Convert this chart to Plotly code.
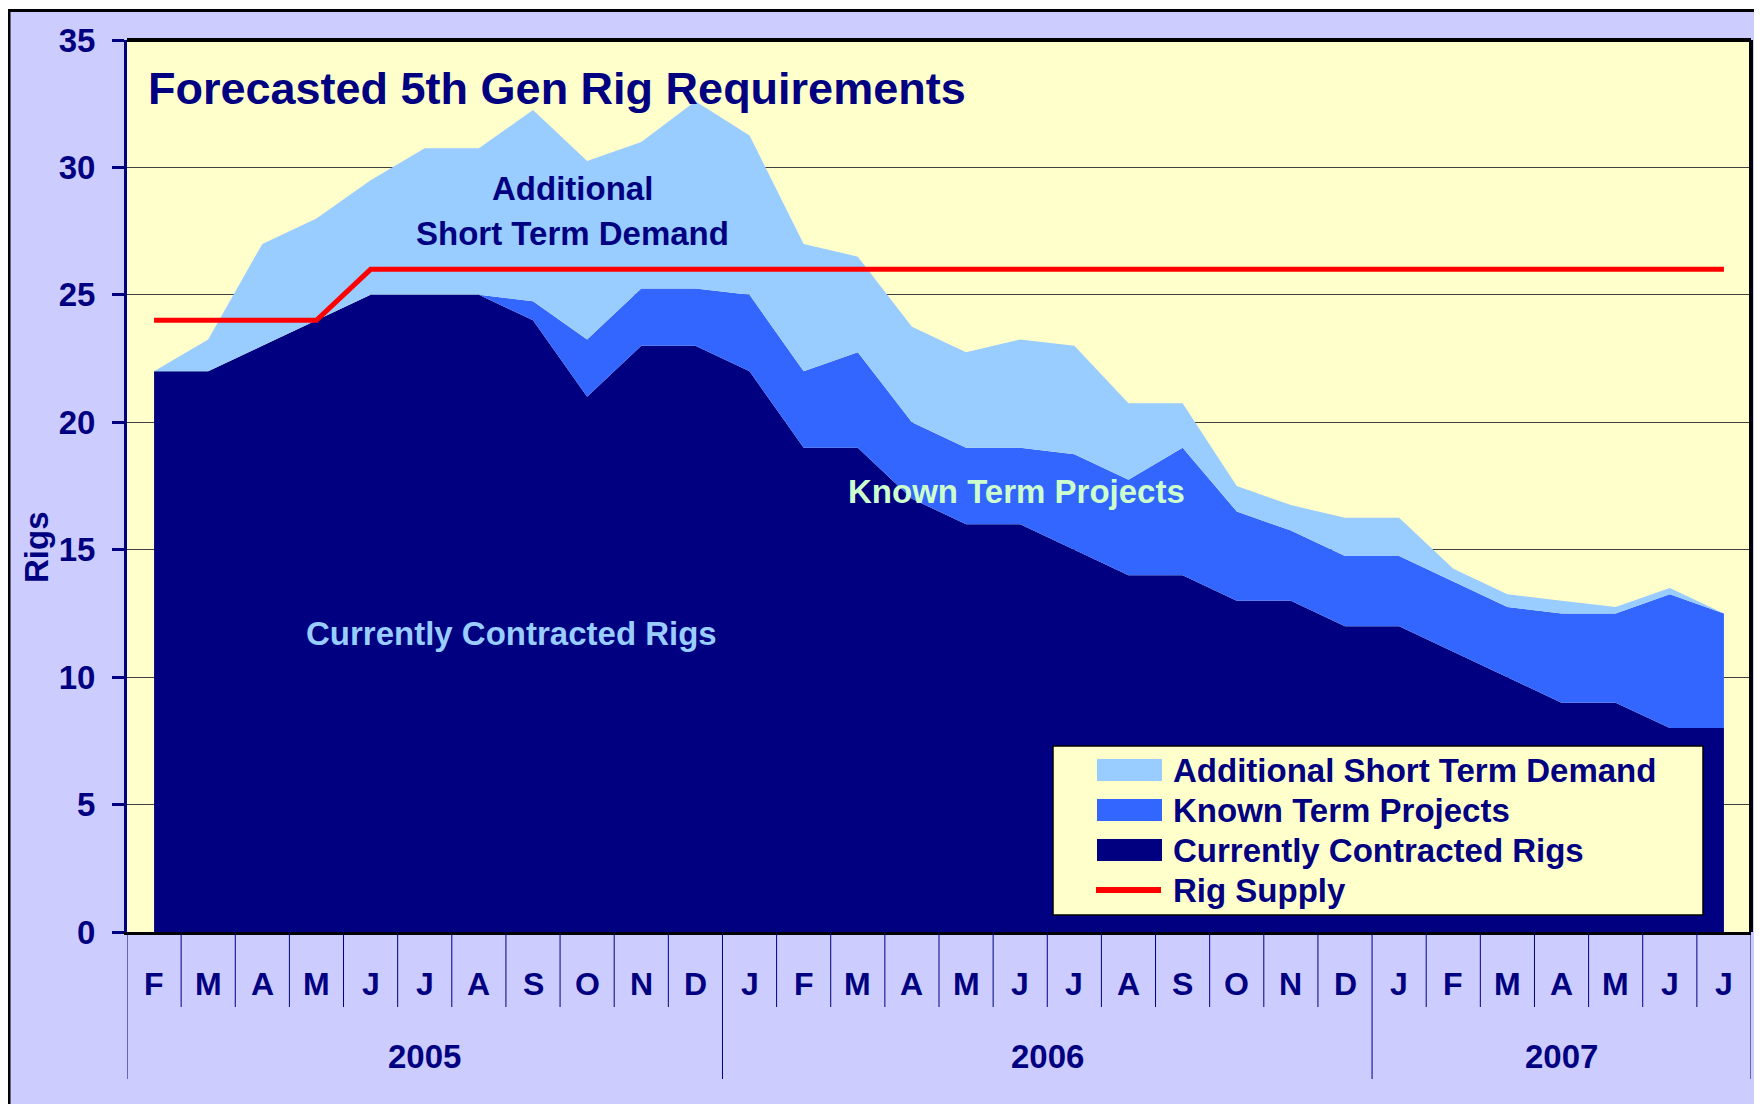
"""Forecasted 5th Gen rig requirements (stacked area + supply line)."""

import plotly.graph_objects as go

NAVY = "#000080"
FONT = "Liberation Sans, Arial, sans-serif"

# one entry per month, Feb 2005 .. Jul 2007
months = ["F", "M", "A", "M", "J", "J", "A", "S", "O", "N", "D",
          "J", "F", "M", "A", "M", "J", "J", "A", "S", "O", "N", "D",
          "J", "F", "M", "A", "M", "J", "J"]
years = [2005, 2005, 2005, 2005, 2005, 2005, 2005, 2005, 2005, 2005, 2005,
         2006, 2006, 2006, 2006, 2006, 2006, 2006, 2006, 2006, 2006, 2006, 2006,
         2007, 2007, 2007, 2007, 2007, 2007, 2007]

contracted = [22, 22, 23, 24, 25, 25, 25, 24, 21, 23, 23,
              22, 19, 19, 17, 16, 16, 15, 14, 14, 13, 13, 12,
              12, 11, 10, 9, 9, 8, 8]
known_term = [0, 0, 0, 0, 0, 0, 0, 0.75, 2.25, 2.25, 2.25,
              3, 3, 3.75, 3, 3, 3, 3.75, 3.75, 5, 3.5, 2.75, 2.75,
              2.75, 2.75, 2.75, 3.5, 3.5, 5.25, 4.5]
short_term = [0, 1.25, 4, 4, 4.5, 5.75, 5.75, 7.5, 7, 5.75, 7.35,
              6.25, 5, 3.75, 3.75, 3.75, 4.25, 4.25, 3, 1.75, 1, 1, 1.5,
              1.5, 0.5, 0.5, 0.5, 0.25, 0.25, 0]
rig_supply = [24, 24, 24, 24, 26, 26, 26, 26, 26, 26, 26,
              26, 26, 26, 26, 26, 26, 26, 26, 26, 26, 26, 26,
              26, 26, 26, 26, 26, 26, 26]

series_names = ["Currently Contracted Rigs", "Known Term Projects",
                "Additional Short Term Demand"]
series_colors = [NAVY, "#3366FF", "#99CCFF"]
legend_order = ["Additional Short Term Demand", "Known Term Projects",
                "Currently Contracted Rigs", "Rig Supply"]

x = list(range(len(months)))

fig = go.Figure()
for name, vals, col in zip(series_names, [contracted, known_term, short_term], series_colors):
    fig.add_trace(go.Scatter(
        x=x, y=vals, name=name, stackgroup="rigs", mode="lines",
        line=dict(width=0, color=col), fillcolor=col, showlegend=False,
    ))
fig.add_trace(go.Scatter(
    x=x, y=rig_supply, name="Rig Supply", mode="lines",
    line=dict(color="#FF0000", width=5), showlegend=False,
))


# paper coords from screen pixels (plot area is 127..1751 x 40..932 on screen)
def px_x(p):
    return (p - 127) / 1624


def px_y(p):
    return (932 - p) / 892


shapes = []
# month / year separators below the axis
year_edges = [-0.5] + [i - 0.5 for i in range(1, len(years)) if years[i] != years[i - 1]] + [len(years) - 0.5]
for k in range(len(months) + 1):
    xe = k - 0.5
    shapes.append(dict(type="line", xref="x", yref="paper", x0=xe, x1=xe,
                       y0=0, y1=px_y(1079) if xe in year_edges else px_y(1007),
                       line=dict(color=NAVY, width=1)))

# plot area border (top / right)
shapes += [
    dict(type="line", xref="paper", yref="paper", x0=0, x1=1, y0=1, y1=1,
         line=dict(color="black", width=4)),
    dict(type="line", xref="paper", yref="paper", x0=1, x1=1, y0=0, y1=1,
         line=dict(color="black", width=4)),
]
# white strip + outer black frame (slide crop)
shapes += [
    dict(type="rect", xref="paper", yref="paper", x0=px_x(0), x1=px_x(1770),
         y0=px_y(10), y1=px_y(0), fillcolor="white", line=dict(width=0)),
    dict(type="line", xref="paper", yref="paper", x0=px_x(8), x1=px_x(1770),
         y0=px_y(10.5), y1=px_y(10.5), line=dict(color="black", width=3)),
    dict(type="line", xref="paper", yref="paper", x0=px_x(9), x1=px_x(9),
         y0=px_y(1110), y1=px_y(9), line=dict(color="black", width=3)),
]

# legend drawn by hand to get Excel-like big swatches
shapes.append(dict(type="rect", xref="paper", yref="paper",
                   x0=px_x(1053), x1=px_x(1703), y0=px_y(915), y1=px_y(746),
                   fillcolor="#FFFFCC", line=dict(color="black", width=1.5)))
legend_colors = {n: c for n, c in zip(series_names, series_colors)}
row_y = [770, 810, 850, 890]
annotations = []
for name, ry in zip(legend_order, row_y):
    if name in legend_colors:
        shapes.append(dict(type="rect", xref="paper", yref="paper",
                           x0=px_x(1097), x1=px_x(1162), y0=px_y(ry + 11), y1=px_y(ry - 11),
                           fillcolor=legend_colors[name], line=dict(width=0)))
    else:
        shapes.append(dict(type="line", xref="paper", yref="paper",
                           x0=px_x(1096), x1=px_x(1161), y0=px_y(ry), y1=px_y(ry),
                           line=dict(color="#FF0000", width=6)))
    annotations.append(dict(xref="paper", yref="paper", x=px_x(1171), y=px_y(ry),
                            text=name, showarrow=False, xanchor="left", yanchor="middle",
                            font=dict(size=33, color=NAVY, weight="bold")))

# month and year labels
for i, m in enumerate(months):
    annotations.append(dict(xref="x", yref="paper", x=i, y=px_y(984), text=m,
                            showarrow=False, xanchor="center", yanchor="middle",
                            font=dict(size=32, color=NAVY, weight="bold")))
for a, b in zip(year_edges[:-1], year_edges[1:]):
    annotations.append(dict(xref="x", yref="paper", x=(a + b) / 2, y=px_y(1056),
                            text=str(years[int(a + 0.5)]), showarrow=False,
                            xanchor="center", yanchor="middle",
                            font=dict(size=33, color=NAVY, weight="bold")))

# titles and in-chart labels
annotations += [
    dict(xref="paper", yref="paper", x=px_x(146), y=px_y(88), xanchor="left",
         yanchor="middle", text="Forecasted 5th Gen Rig Requirements", showarrow=False,
         font=dict(size=45, color=NAVY, weight="bold")),
    dict(xref="paper", yref="paper", x=px_x(572), y=px_y(189), text="Additional",
         xanchor="center", yanchor="middle", showarrow=False,
         font=dict(size=33, color=NAVY, weight="bold")),
    dict(xref="paper", yref="paper", x=px_x(572), y=px_y(234), text="Short Term Demand",
         xanchor="center", yanchor="middle", showarrow=False,
         font=dict(size=33, color=NAVY, weight="bold")),
    dict(xref="paper", yref="paper", x=px_x(1016), y=px_y(491), text="Known Term Projects",
         xanchor="center", yanchor="middle", showarrow=False,
         font=dict(size=33, color="#CCFFCC", weight="bold")),
    dict(xref="paper", yref="paper", x=px_x(511), y=px_y(633), text="Currently Contracted Rigs",
         xanchor="center", yanchor="middle", showarrow=False,
         font=dict(size=33, color="#99CCFF", weight="bold")),
    dict(xref="paper", yref="paper", x=px_x(36), y=px_y(547), text="Rigs", textangle=-90,
         xanchor="center", yanchor="middle", showarrow=False,
         font=dict(size=33, color=NAVY, weight="bold")),
]

# the page body keeps its default 8px margin, so the figure is 8px smaller
fig.update_layout(
    width=1754, height=1096,
    margin=dict(l=119, r=11, t=32, b=172),
    paper_bgcolor="#CCCCFF", plot_bgcolor="#FFFFCC",
    font=dict(family=FONT, color=NAVY),
    shapes=shapes, annotations=annotations,
    showlegend=False, hovermode=False,
)
fig.update_xaxes(range=[-0.5, len(months) - 0.5], showticklabels=False, ticks="",
                 showgrid=False, zeroline=False, showline=True,
                 linecolor="black", linewidth=3)
fig.update_yaxes(range=[0, 35], tickvals=[0, 5, 10, 15, 20, 25, 30, 35],
                 showgrid=True, gridcolor="#404040", gridwidth=1, zeroline=False,
                 showline=True, linecolor=NAVY, linewidth=3,
                 ticks="outside", ticklen=12, tickwidth=3, tickcolor=NAVY,
                 ticklabelstandoff=10,
                 tickfont=dict(size=33, color=NAVY, weight="bold", family=FONT))

fig.write_html("out.html")
